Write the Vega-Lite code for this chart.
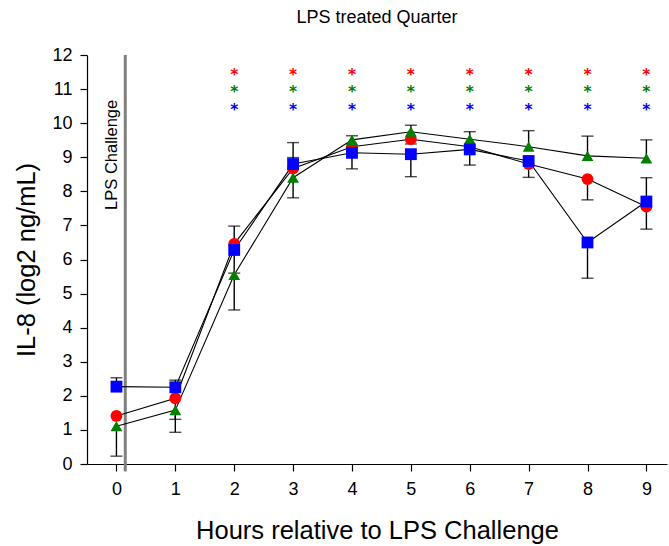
{
  "$schema": "https://vega.github.io/schema/vega-lite/v6.json",
  "autosize": "none",
  "width": 580,
  "height": 409,
  "padding": {"left": 87, "top": 55, "right": 2, "bottom": 82},
  "background": "white",
  "title": {"text": "LPS treated Quarter", "fontSize": 18, "font": "Liberation Sans", "fontWeight": "normal", "color": "black", "offset": 19, "anchor": "middle"},
  "config": {
    "view": {"stroke": null},
    "font": "Liberation Sans",
    "axis": {"grid": false, "domainColor": "black", "tickColor": "black", "labelColor": "black", "titleColor": "black", "labelFont": "Liberation Sans", "titleFont": "Liberation Sans", "labelFontSize": 18, "titleFontSize": 25.5, "titleFontWeight": "normal", "domainWidth": 1.2, "tickWidth": 1.2, "tickSize": 7, "labelOverlap": false}
  },
  "datasets": {
    "pts": [
      {"t": 0, "s": "A", "v": 1.41}, {"t": 1, "s": "A", "v": 1.93}, {"t": 2, "s": "A", "v": 6.46}, {"t": 3, "s": "A", "v": 8.67}, {"t": 4, "s": "A", "v": 9.31}, {"t": 5, "s": "A", "v": 9.53}, {"t": 6, "s": "A", "v": 9.31}, {"t": 7, "s": "A", "v": 8.80}, {"t": 8, "s": "A", "v": 8.36}, {"t": 9, "s": "A", "v": 7.55},
      {"t": 0, "s": "B", "v": 1.11}, {"t": 1, "s": "B", "v": 1.58}, {"t": 2, "s": "B", "v": 5.55}, {"t": 3, "s": "B", "v": 8.40}, {"t": 4, "s": "B", "v": 9.51}, {"t": 5, "s": "B", "v": 9.75}, {"t": 6, "s": "B", "v": 9.53}, {"t": 7, "s": "B", "v": 9.31}, {"t": 8, "s": "B", "v": 9.04}, {"t": 9, "s": "B", "v": 8.97},
      {"t": 0, "s": "C", "v": 2.27}, {"t": 1, "s": "C", "v": 2.25}, {"t": 2, "s": "C", "v": 6.28}, {"t": 3, "s": "C", "v": 8.80}, {"t": 4, "s": "C", "v": 9.13}, {"t": 5, "s": "C", "v": 9.09}, {"t": 6, "s": "C", "v": 9.23}, {"t": 7, "s": "C", "v": 8.89}, {"t": 8, "s": "C", "v": 6.50}, {"t": 9, "s": "C", "v": 7.70}
    ],
    "errs": [
      {"t": 0, "s": "C", "v": 2.27, "e": 2.53}, {"t": 0, "s": "B", "v": 1.11, "e": 0.23},
      {"t": 1, "s": "C", "v": 2.25, "e": 2.46}, {"t": 1, "s": "A", "v": 1.93, "e": 1.31}, {"t": 1, "s": "B", "v": 1.58, "e": 0.93},
      {"t": 2, "s": "A", "v": 6.46, "e": 6.98}, {"t": 2, "s": "C", "v": 6.28, "e": 5.60}, {"t": 2, "s": "B", "v": 5.55, "e": 4.52},
      {"t": 3, "s": "C", "v": 8.80, "e": 9.43}, {"t": 3, "s": "A", "v": 8.67, "e": 8.99}, {"t": 3, "s": "B", "v": 8.40, "e": 7.81},
      {"t": 4, "s": "B", "v": 9.51, "e": 9.63}, {"t": 4, "s": "C", "v": 9.13, "e": 8.66},
      {"t": 5, "s": "B", "v": 9.75, "e": 9.94}, {"t": 5, "s": "A", "v": 9.53, "e": 9.39}, {"t": 5, "s": "C", "v": 9.09, "e": 8.43},
      {"t": 6, "s": "B", "v": 9.53, "e": 9.75}, {"t": 6, "s": "C", "v": 9.23, "e": 8.77},
      {"t": 7, "s": "B", "v": 9.31, "e": 9.78}, {"t": 7, "s": "A", "v": 8.80, "e": 8.41},
      {"t": 8, "s": "B", "v": 9.04, "e": 9.62}, {"t": 8, "s": "A", "v": 8.36, "e": 7.75}, {"t": 8, "s": "C", "v": 6.50, "e": 5.45},
      {"t": 9, "s": "B", "v": 8.97, "e": 9.51}, {"t": 9, "s": "C", "v": 7.70, "e": 8.40}, {"t": 9, "s": "A", "v": 7.55, "e": 6.89}
    ],
    "stars": [
      {"t": 2, "s": "A", "y": 11.4}, {"t": 3, "s": "A", "y": 11.4}, {"t": 4, "s": "A", "y": 11.4}, {"t": 5, "s": "A", "y": 11.4}, {"t": 6, "s": "A", "y": 11.4}, {"t": 7, "s": "A", "y": 11.4}, {"t": 8, "s": "A", "y": 11.4}, {"t": 9, "s": "A", "y": 11.4},
      {"t": 2, "s": "B", "y": 10.91}, {"t": 3, "s": "B", "y": 10.91}, {"t": 4, "s": "B", "y": 10.91}, {"t": 5, "s": "B", "y": 10.91}, {"t": 6, "s": "B", "y": 10.91}, {"t": 7, "s": "B", "y": 10.91}, {"t": 8, "s": "B", "y": 10.91}, {"t": 9, "s": "B", "y": 10.91},
      {"t": 2, "s": "C", "y": 10.4}, {"t": 3, "s": "C", "y": 10.4}, {"t": 4, "s": "C", "y": 10.4}, {"t": 5, "s": "C", "y": 10.4}, {"t": 6, "s": "C", "y": 10.4}, {"t": 7, "s": "C", "y": 10.4}, {"t": 8, "s": "C", "y": 10.4}, {"t": 9, "s": "C", "y": 10.4}
    ],
    "challenge": [{"t": 0.15, "lo": -0.22, "hi": 12, "ty": 9.07, "tx": -0.08, "label": "LPS Challenge"}]
  },
  "encoding": {
    "x": {"type": "quantitative", "scale": {"domain": [-0.5, 9.35], "nice": false, "zero": false},
      "axis": {"values": [0, 1, 2, 3, 4, 5, 6, 7, 8, 9], "labelOverlap": false, "format": "d", "title": "Hours relative to LPS Challenge", "labelPadding": 9, "titlePadding": 20, "labelFlush": false}},
    "y": {"type": "quantitative", "scale": {"domain": [0, 12], "nice": false},
      "axis": {"values": [0, 1, 2, 3, 4, 5, 6, 7, 8, 9, 10, 11, 12], "labelOverlap": false, "labelBound": false, "format": "d", "title": "IL-8 (log2 ng/mL)", "labelPadding": 8, "titlePadding": 12, "labelFlush": false}}
  },
  "layer": [
    {
      "data": {"name": "challenge"},
      "mark": {"type": "rule", "color": "#808080", "strokeWidth": 3, "clip": false},
      "encoding": {
        "x": {"field": "t"},
        "y": {"field": "lo"},
        "y2": {"field": "hi"}
      }
    },
    {
      "data": {"name": "challenge"},
      "mark": {"type": "text", "angle": 270, "align": "center", "baseline": "middle", "fontSize": 16.5, "font": "Liberation Sans", "color": "black"},
      "encoding": {
        "x": {"field": "tx"},
        "y": {"field": "ty"},
        "text": {"field": "label"}
      }
    },
    {
      "data": {"name": "pts"},
      "mark": {"type": "line", "color": "black", "strokeWidth": 1.1},
      "encoding": {
        "x": {"field": "t"},
        "y": {"field": "v"},
        "detail": {"field": "s"}
      }
    },
    {
      "data": {"name": "errs"},
      "mark": {"type": "rule", "color": "black", "strokeWidth": 1.4},
      "encoding": {
        "x": {"field": "t"},
        "y": {"field": "v"},
        "y2": {"field": "e"}
      }
    },
    {
      "data": {"name": "errs"},
      "mark": {"type": "tick", "orient": "horizontal", "color": "black", "size": 12, "thickness": 1.4},
      "encoding": {
        "x": {"field": "t"},
        "y": {"field": "e"}
      }
    },
    {
      "data": {"name": "pts"},
      "mark": {"type": "point", "filled": true, "opacity": 1, "size": 140},
      "encoding": {
        "x": {"field": "t"},
        "y": {"field": "v"},
        "color": {"field": "s", "type": "nominal", "scale": {"domain": ["A", "B", "C"], "range": ["#ff0000", "#008000", "#0000ff"]}, "legend": null},
        "shape": {"field": "s", "type": "nominal", "scale": {"domain": ["A", "B", "C"], "range": ["circle", "triangle-up", "square"]}, "legend": null}
      }
    },
    {
      "data": {"name": "stars"},
      "mark": {"type": "text", "text": "*", "fontSize": 15.5, "font": "DejaVu Sans", "fontWeight": "bold", "baseline": "middle", "align": "center"},
      "encoding": {
        "x": {"field": "t"},
        "y": {"field": "y"},
        "color": {"field": "s", "type": "nominal", "scale": {"domain": ["A", "B", "C"], "range": ["#ff0000", "#008000", "#0000ff"]}, "legend": null}
      }
    }
  ]
}
